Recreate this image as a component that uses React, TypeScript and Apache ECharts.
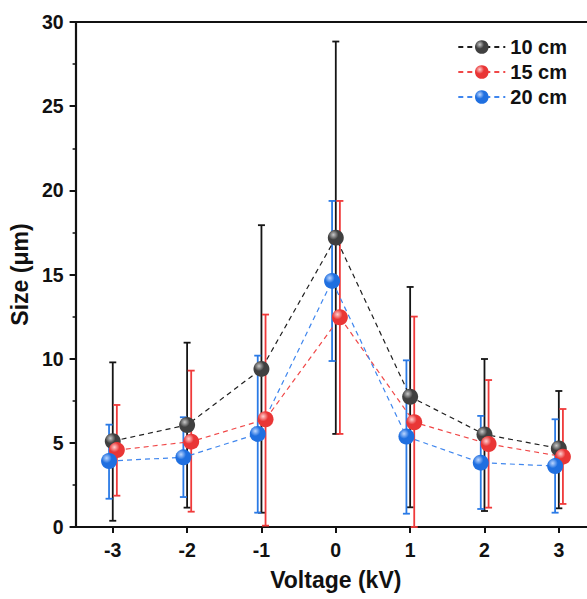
import React, { useEffect, useRef } from "react";
import * as echarts from "echarts";

// Applied voltage (kV)
const voltages = [-3, -2, -1, 0, 1, 2, 3];

// Mean size (μm) and error-bar bounds for each collector distance
const size10 = [5.1, 6.06, 9.39, 17.19, 7.74, 5.5, 4.67];
const high10 = [9.78, 10.95, 17.93, 28.84, 14.26, 9.98, 8.08];
const low10 = [0.37, 1.15, 0.85, 5.53, 1.17, 0.95, 1.11];

const size15 = [4.57, 5.07, 6.4, 12.46, 6.22, 4.93, 4.18];
const high15 = [7.25, 9.29, 12.62, 19.37, 12.5, 8.73, 7.01];
const low15 = [1.86, 0.91, 0.08, 5.53, 0.0, 1.15, 1.37];

const size20 = [3.92, 4.14, 5.53, 14.62, 5.37, 3.82, 3.62];
const high20 = [6.08, 6.52, 10.18, 19.37, 9.9, 6.6, 6.4];
const low20 = [1.68, 1.78, 0.85, 9.86, 0.79, 1.07, 0.85];

const seriesNames = ["10 cm", "15 cm", "20 cm"];

const FONT = "'Liberation Sans', Arial, sans-serif";

// The canvas is wider than the visible frame so the plot runs past its right edge.
const VIEW_W = 587;
const VIEW_H = 599;
const CHART_W = 620;

type Spec = {
  name: string;
  size: number[];
  high: number[];
  low: number[];
  shift: number;
  line: string;
  bar: string;
  base: string;
  light: string;
};

const specs: Spec[] = [
  { name: seriesNames[0], size: size10, high: high10, low: low10, shift: 0, line: "#1f1f1f", bar: "#151515", base: "#404040", light: "#c8c8c8" },
  { name: seriesNames[1], size: size15, high: high15, low: low15, shift: 0.055, line: "#f04848", bar: "#f03a3a", base: "#e93636", light: "#ffd0d0" },
  { name: seriesNames[2], size: size20, high: high20, low: low20, shift: -0.05, line: "#3f86ee", bar: "#2a7ae6", base: "#1f6fe0", light: "#bcd6ff" },
];

function sphere(base: string, light: string) {
  return new echarts.graphic.RadialGradient(0.35, 0.32, 0.7, [
    { offset: 0, color: light },
    { offset: 0.45, color: base },
    { offset: 1, color: base },
  ]);
}

function buildOption() {
  const series: any[] = [];
  specs.forEach((s) => {
    series.push({
      type: "custom",
      name: s.name + " SD",
      z: 2,
      silent: true,
      encode: { x: 0, y: [1, 2] },
      data: voltages.map((v, i) => [v + s.shift, s.low[i], s.high[i]]),
      renderItem: (params: any, api: any) => {
        const x = api.value(0);
        const top = api.coord([x, api.value(2)]);
        const bot = api.coord([x, api.value(1)]);
        const half = 3.5;
        const style = { stroke: s.bar, lineWidth: 1.8 };
        return {
          type: "group",
          children: [
            { type: "line", shape: { x1: top[0], y1: top[1], x2: bot[0], y2: bot[1] }, style },
            { type: "line", shape: { x1: top[0] - half, y1: top[1], x2: top[0] + half, y2: top[1] }, style },
            { type: "line", shape: { x1: bot[0] - half, y1: bot[1], x2: bot[0] + half, y2: bot[1] }, style },
          ],
        };
      },
    });
  });
  specs.forEach((s) => {
    series.push({
      type: "line",
      name: s.name,
      z: 3,
      data: voltages.map((v, i) => [v + s.shift, s.size[i]]),
      symbol: "circle",
      symbolSize: 16,
      lineStyle: { color: s.line, width: 1.2, type: [5, 4] },
      itemStyle: { color: sphere(s.base, s.light), borderWidth: 0 },
    });
  });

  return {
    animation: false,
    backgroundColor: "#ffffff",
    grid: { left: 74, top: 22, width: 522, height: 505, containLabel: false },
    legend: {
      data: seriesNames,
      orient: "vertical",
      right: CHART_W - 572,
      top: 32,
      itemWidth: 47,
      itemHeight: 17,
      itemGap: 5,
      textStyle: { fontFamily: FONT, fontWeight: "bold", fontSize: 20, color: "#111" },
    },
    xAxis: [
      {
        type: "value",
        min: -3.5,
        max: 3.5,
        position: "bottom",
        name: "Voltage (kV)",
        nameLocation: "middle",
        nameGap: 41,
        nameTextStyle: { fontFamily: FONT, fontWeight: "bold", fontSize: 23, color: "#111" },
        splitLine: { show: false },
        axisLine: { show: true, onZero: false, lineStyle: { color: "#111", width: 2.2 } },
        axisTick: { show: true, inside: false, length: 6, customValues: voltages, lineStyle: { color: "#111", width: 2 } },
        axisLabel: {
          customValues: voltages,
          margin: 13,
          fontFamily: FONT,
          fontWeight: "bold",
          fontSize: 19.5,
          color: "#111",
        },
      },
      {
        type: "value",
        min: -3.5,
        max: 3.5,
        position: "top",
        splitLine: { show: false },
        axisLine: { show: true, onZero: false, lineStyle: { color: "#111", width: 2.2 } },
        axisTick: { show: false },
        axisLabel: { show: false },
      },
    ],
    yAxis: {
      type: "value",
      min: 0,
      max: 30,
      interval: 5,
      name: "Size (μm)",
      nameLocation: "middle",
      nameGap: 37,
      nameTextStyle: { fontFamily: FONT, fontWeight: "bold", fontSize: 23, color: "#111" },
      splitLine: { show: false },
      axisLine: { show: true, onZero: false, lineStyle: { color: "#111", width: 2.2 } },
      axisTick: { show: true, inside: false, length: 6, lineStyle: { color: "#111", width: 2 } },
      minorTick: { show: true, splitNumber: 2, length: 3, lineStyle: { color: "#111", width: 1.5 } },
      axisLabel: { margin: 12, fontFamily: FONT, fontWeight: "bold", fontSize: 19.5, color: "#111" },
    },
    series,
  };
}

export default function App() {
  const ref = useRef<HTMLDivElement>(null);
  useEffect(() => {
    if (!ref.current) return;
    const chart = echarts.init(ref.current, undefined, { renderer: "svg" });
    chart.setOption(buildOption() as any);
    return () => chart.dispose();
  }, []);
  return (
    <div
      style={{
        position: "fixed",
        left: 0,
        top: 0,
        width: VIEW_W,
        height: VIEW_H,
        overflow: "hidden",
        background: "#fff",
      }}
    >
      <div ref={ref} style={{ width: CHART_W, height: VIEW_H }} />
    </div>
  );
}
